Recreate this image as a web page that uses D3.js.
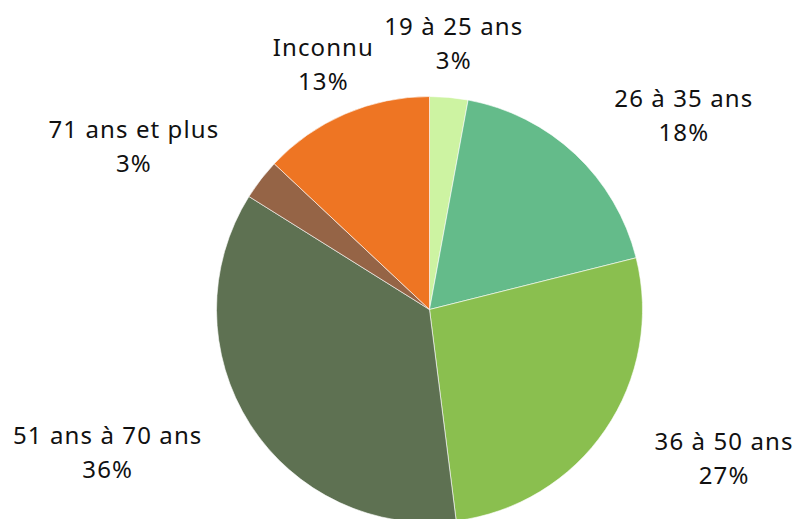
<!DOCTYPE html>
<html>
<head>
<meta charset="utf-8">
<script src="https://cdn.jsdelivr.net/npm/d3@7"></script>
<style>
    body { margin: 0; background: #fff; }
    #center { width: 801px; height: 519px; }
</style>
</head>
<body>
<div id="center"></div>
<script>
// tranches d'age, dans l'ordre des aiguilles d'une montre depuis midi
const categories = ["19 à 25 ans", "26 à 35 ans", "36 à 50 ans", "51 ans à 70 ans", "71 ans et plus", "Inconnu"];
const values = [2.9, 18.2, 26.9, 35.9, 3.1, 13.0];
const colors = ["#cdf3a2", "#64bb8a", "#8abf4f", "#5e7152", "#956446", "#ee7523"];
// petits decalages des etiquettes, comme Excel les place
const labelNudge = [[-3, 33], [49, 25], [47, -20], [-69, -19], [-58, 20], [13, 30]];

let width = document.getElementById("center").offsetWidth;
let height = document.getElementById("center").offsetHeight;
const svg = d3.select("#center").append("svg")
    .attr("width", width)
    .attr("height", height)

let cx = 429.5, cy = 309.5, radius = 213;
let g = svg.append("g").attr("transform", "translate(" + cx + "," + cy + ")");

let pie = d3.pie().sort(null).value(function (d) { return d; });
let arcs = pie(values);
let arc = d3.arc().innerRadius(0).outerRadius(radius);
let labelArc = d3.arc().innerRadius(300).outerRadius(300);

g.selectAll("path")
    .data(arcs)
    .enter()
    .append("path")
    .attr("d", arc)
    .attr("fill", function (d, i) { return colors[i]; })
    .attr("stroke", "#fff")
    .attr("stroke-width", 0.6)

let total = d3.sum(values);
let labels = g.selectAll(".label")
    .data(arcs)
    .enter()
    .append("text")
    .attr("class", "label")
    .attr("text-anchor", "middle")
    .style("font-family", "'Noto Sans', sans-serif")
    .style("font-size", "24px")
    .style("letter-spacing", "1.1px")
    .attr("fill", "#111")
    .attr("transform", function (d, i) {
        let c = labelArc.centroid(d);
        return "translate(" + (c[0] + labelNudge[i][0]) + "," + (c[1] + labelNudge[i][1]) + ")";
    })
labels.append("tspan")
    .attr("x", 0)
    .attr("y", -8.5)
    .text(function (d, i) { return categories[i]; })
labels.append("tspan")
    .attr("x", 0)
    .attr("y", 25.5)
    .text(function (d) { return Math.round(d.value / total * 100) + "%"; })
</script>
</body>
</html>
